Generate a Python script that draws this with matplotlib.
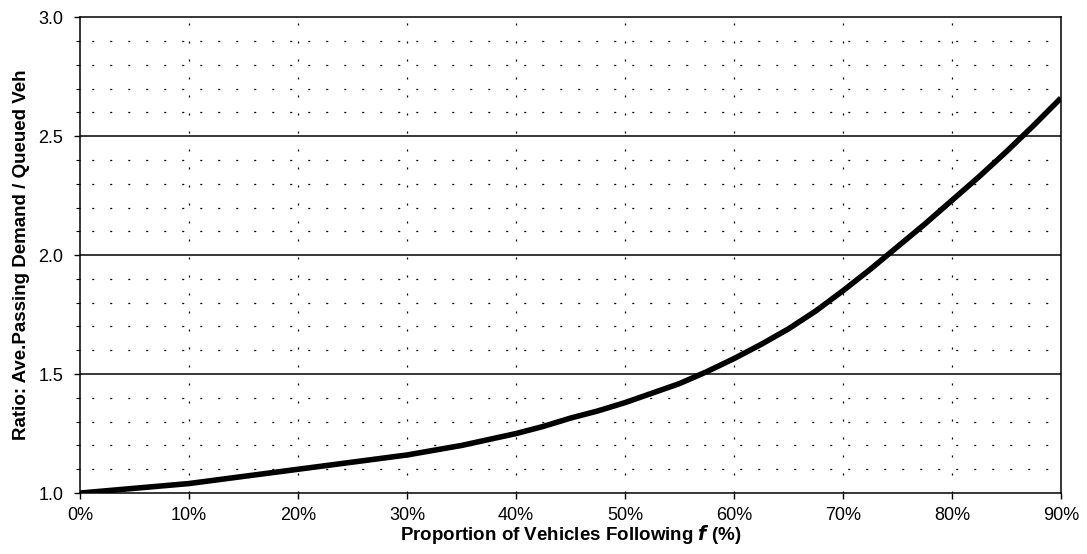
import matplotlib.pyplot as plt
import numpy as np
from matplotlib.ticker import MultipleLocator, FuncFormatter

plt.rcParams['font.family'] = ['Liberation Sans', 'DejaVu Sans']

# values
follow_pct = [0, 5, 10, 15, 20, 25, 30, 35, 40, 42.5, 45, 47.5, 50, 52.5, 55, 57.5,
              60, 62.5, 65, 67.5, 70, 72.5, 75, 77.5, 80, 82.5, 85, 87.5, 90]
ratio = [1.00, 1.02, 1.04, 1.07, 1.10, 1.13, 1.16, 1.20, 1.25, 1.28, 1.315, 1.345,
         1.38, 1.42, 1.46, 1.51, 1.565, 1.625, 1.69, 1.765, 1.85, 1.94, 2.035, 2.13,
         2.23, 2.33, 2.435, 2.545, 2.66]
solid_levels = [1.5, 2.0, 2.5]

fig = plt.figure(figsize=(10.87, 5.54), dpi=100)
ax = fig.add_axes([0.0736, 0.110, 0.9024, 0.859])

# dotted grid: vertical every 10%, horizontal every 0.1
for x in range(10, 90, 10):
    ax.axvline(x, color='black', lw=0.9, ls=(0, (1.6, 12.8)), zorder=1)
for y in np.arange(1.1, 3.0, 0.1):
    if any(abs(y - s) < 1e-6 for s in solid_levels):
        continue
    ax.axhline(y, color='black', lw=0.9, ls=(5, (1.6, 12.8)), zorder=1)
for s in solid_levels:
    ax.axhline(s, color='black', lw=1.1, zorder=2)

ax.plot(follow_pct, ratio, color='black', lw=4, solid_capstyle='butt',
        solid_joinstyle='round', zorder=3)

ax.set_xlim(0, 90)
ax.set_ylim(1.0, 3.0)
ax.xaxis.set_major_locator(MultipleLocator(10))
ax.xaxis.set_major_formatter(FuncFormatter(lambda v, p: f'{v:.0f}%'))
ax.yaxis.set_major_locator(MultipleLocator(0.5))
ax.yaxis.set_minor_locator(MultipleLocator(0.1))
ax.yaxis.set_major_formatter(FuncFormatter(lambda v, p: f'{v:.1f}'))
ax.tick_params(axis='both', labelsize=13, direction='out', length=4, width=1)
ax.tick_params(axis='y', which='minor', length=3, width=0.8)
ax.tick_params(axis='x', pad=6)
ax.tick_params(axis='y', pad=8)

for sp in ax.spines.values():
    sp.set_linewidth(1.1)

ax.set_xlabel('Proportion of Vehicles Following $\\mathbfit{f}$ (%)', fontsize=13.5,
              fontweight='bold', labelpad=-1)
ax.set_ylabel('Ratio: Ave.Passing Demand / Queued Veh', fontsize=13.5,
              fontweight='bold', labelpad=6)

fig.savefig('out.png', dpi=100)
